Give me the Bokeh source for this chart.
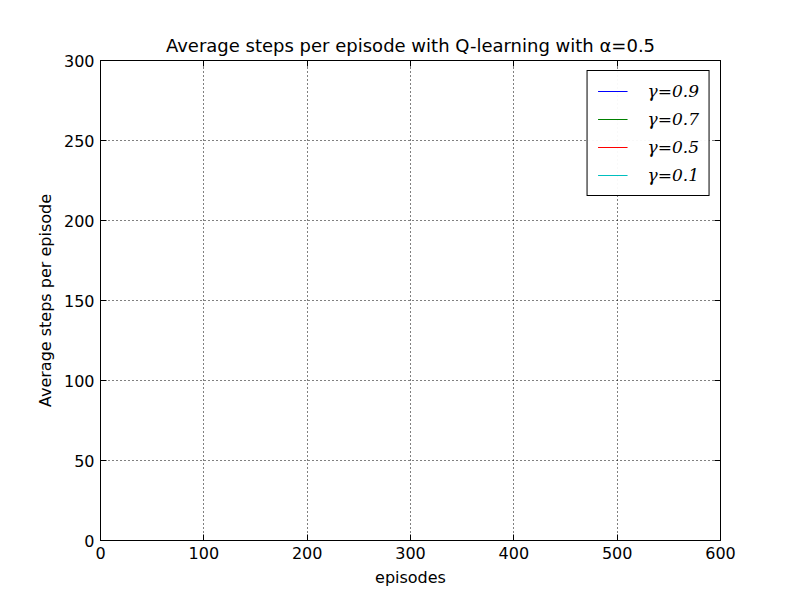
from bokeh.plotting import figure
from bokeh.models import FixedTicker, LinearAxis, Range1d
from bokeh.embed import file_html
from bokeh.resources import INLINE

# series data: all curves sit on y=0 in the reference (hidden by the bottom axis)
episodes = [0, 600]
gammas = ["0.9", "0.7", "0.5", "0.1"]
colors = ["blue", "green", "red", "#00bfbf"]
steps = {"0.9": [0, 0], "0.7": [0, 0], "0.5": [0, 0], "0.1": [0, 0]}

x_ticks = [0, 100, 200, 300, 400, 500, 600]
y_ticks = [0, 50, 100, 150, 200, 250, 300]

p = figure(width=792, height=592, output_backend="svg", toolbar_location=None,
           x_range=Range1d(0, 600), y_range=Range1d(0, 300),
           min_border_left=100, min_border_right=72, min_border_top=60, min_border_bottom=52,
           title="Average steps per episode with Q-learning with α=0.5")
p.title.align = "center"
p.title.text_font = "DejaVu Sans"
p.title.text_font_size = "18px"
p.title.text_font_style = "normal"
p.title.text_color = "black"

for g, c in zip(gammas, colors):
    p.line(episodes, steps[g], line_color=c, line_width=1, legend_label="γ=" + g)

p.outline_line_color = "black"
p.outline_line_width = 1
p.outline_line_alpha = 1
for ax, ticks, lab in ((p.xaxis[0], x_ticks, "episodes"), (p.yaxis[0], y_ticks, "Average steps per episode")):
    ax.ticker = FixedTicker(ticks=ticks)
    ax.axis_label = lab
    ax.axis_label_text_font = "DejaVu Sans"
    ax.axis_label_text_font_size = "16px"
    ax.axis_label_text_font_style = "normal"
    ax.axis_label_text_color = "black"
    ax.major_label_text_font = "DejaVu Sans"
    ax.major_label_text_font_size = "16px"
    ax.major_label_text_color = "black"
    ax.major_tick_in = 6
    ax.major_tick_out = 0
    ax.major_tick_line_color = "black"
    ax.minor_tick_line_color = None
    ax.axis_line_color = "black"
    ax.major_label_standoff = 6
    ax.axis_label_standoff = 6

for side, ticks in (("above", x_ticks), ("right", y_ticks)):
    a = LinearAxis(ticker=FixedTicker(ticks=ticks), major_label_text_font_size="0px",
                   major_tick_in=6, major_tick_out=0, minor_tick_line_color=None,
                   major_tick_line_color="black", axis_line_color="black")
    p.add_layout(a, side)

for grid, ticks in ((p.xgrid[0], x_ticks), (p.ygrid[0], y_ticks)):
    grid.ticker = FixedTicker(ticks=ticks)
    grid.grid_line_color = "black"
    grid.grid_line_dash = "1 3"
    grid.grid_line_width = 1
    grid.grid_line_alpha = 1

p.legend.location = "top_right"
p.legend.border_line_color = "black"
p.legend.border_line_width = 1
p.legend.border_line_alpha = 1
p.legend.label_text_font = "DejaVu Serif"
p.legend.label_text_font_style = "italic"
p.legend.label_text_font_size = "17px"
p.legend.label_text_color = "black"
p.legend.glyph_width = 30
p.legend.spacing = 8
p.legend.padding = 10
p.legend.margin = 10
p.legend.label_standoff = 20

open("out.html", "w").write(file_html(p, INLINE))
